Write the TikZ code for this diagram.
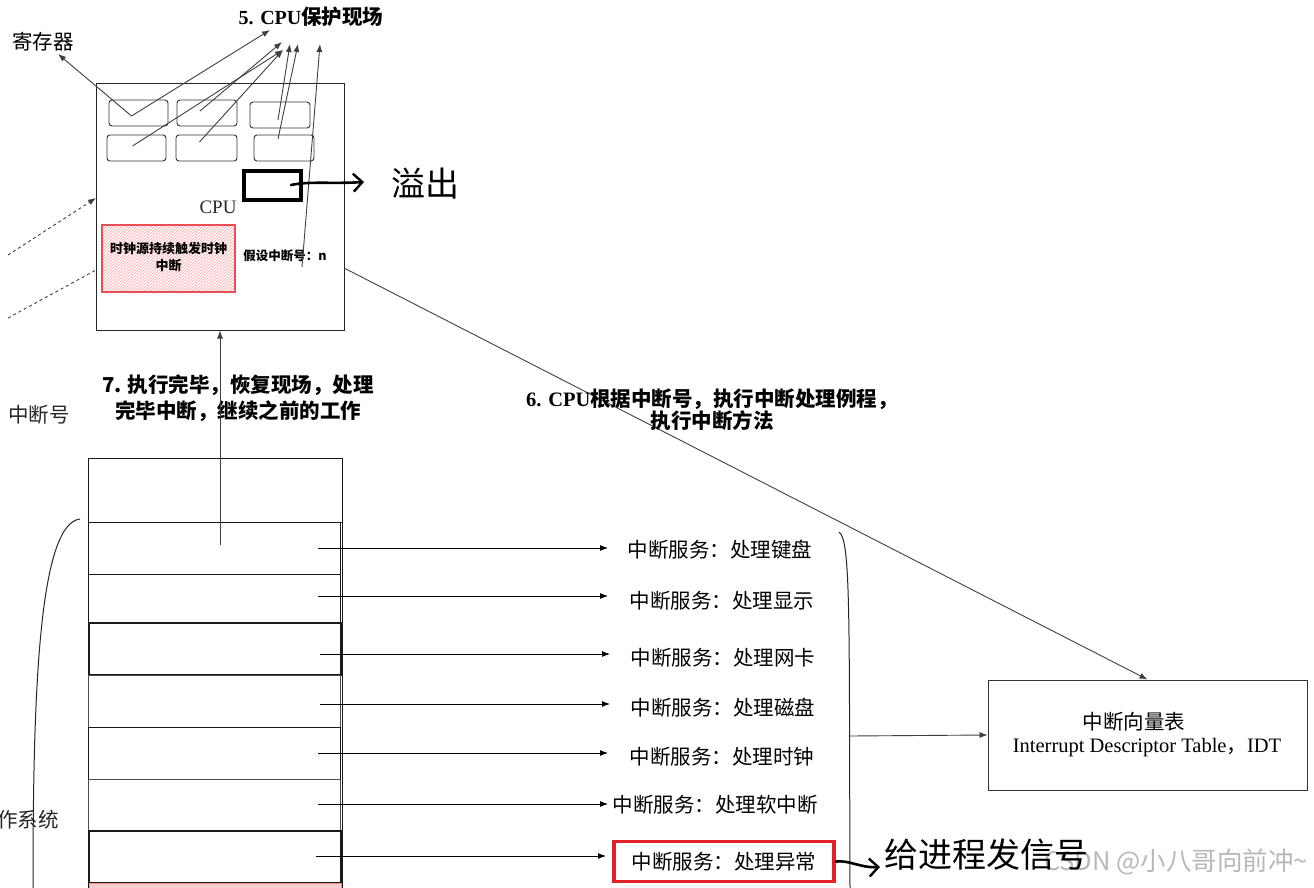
\documentclass[tikz,border=0pt]{standalone}
\usepackage{fontspec}
\setmainfont{Liberation Serif}
\newfontfamily\cjk{Noto Sans CJK SC}
\usetikzlibrary{arrows.meta,patterns}
\definecolor{redbox}{HTML}{E3212B}
\tikzset{
  reg/.style={draw=black!80, rounded corners=3pt, line width=0.9pt, minimum height=26pt, inner sep=0pt},
  cell/.style={draw=black!90, line width=1pt, minimum width=252pt, inner sep=0pt},
  conn/.style={-{Latex[length=8pt,width=6pt]}, draw=black!75, line width=0.9pt},
  svc/.style={font=\cjk\fontsize{20.5}{24}\selectfont, inner sep=2pt},
  hand/.style={draw=black, line width=2.6pt, line cap=round, -{Straight Barb[length=9pt,width=18pt,line width=2.4pt]}},
  big/.style={font=\cjk\fontsize{34}{40}\selectfont, inner sep=0pt},
  lbl/.style={font=\cjk\fontsize{20.5}{24}\selectfont, inner sep=0pt},
}
\begin{document}
\begin{tikzpicture}[x=1pt,y=-1pt]
\useasboundingbox (0,0) rectangle (1314,888);
\clip (0,0) rectangle (1314,888);
\fill[white] (0,0) rectangle (1314,888);

% watermark (behind)
\node[font=\cjk\fontsize{25.5}{28}\selectfont, text=black!28, inner sep=0pt] (wm) at (1176,862) {CSDN @小八哥向前冲\textasciitilde};

% CPU box
\node[draw=black!85, line width=1pt, minimum width=248pt, minimum height=246pt, inner sep=0pt] (cpu) at (220,207) {};
\node[reg, minimum width=59pt] (r1) at (138.5,113) {};
\node[reg, minimum width=60pt] (r2) at (207,113) {};
\node[reg, minimum width=60pt] (r3) at (280,115) {};
\node[reg, minimum width=59pt] (r4) at (136.5,148) {};
\node[reg, minimum width=61pt] (r5) at (206.5,148) {};
\node[reg, minimum width=60pt] (r6) at (284,148) {};
\node[draw=black, line width=3.8pt, minimum width=57pt, minimum height=29pt, inner sep=0pt] (ovf) at (272.5,185.5) {};
\node[font=\fontsize{19}{22}\selectfont, text=black!85, inner sep=0pt] (cpul) at (218,207) {CPU};
\node[draw=redbox!80, line width=1.2pt, fill=red!8, pattern=north east lines, pattern color=red!35, minimum width=133pt, minimum height=67pt, inner sep=0pt] (clk) at (168.5,258.5) {};
\node[font=\cjk\bfseries\fontsize{13}{17}\selectfont, align=center, inner sep=0pt] (clkt) at (168.5,257) {时钟源持续触发时钟\\中断};
\node[font=\cjk\bfseries\fontsize{12.5}{15}\selectfont, inner sep=0pt] (irqn) at (285,256) {假设中断号：n};

% title 5 and register label
\node[inner sep=0pt] (t5) at (311,17) {{\bfseries\fontsize{20}{24}\selectfont 5. CPU}{\cjk\bfseries\fontsize{20.5}{24}\selectfont 保护现场}};
\node[lbl] (regl) at (43,42) {寄存器};
\coordinate (e0) at (58,54);
\coordinate (e1) at (270,30);
\coordinate (e2) at (282,42);
\coordinate (e3) at (283,50);
\coordinate (e4) at (290,44);
\coordinate (e5) at (298,44);
\coordinate (e6) at (320,44);
\draw[conn] ([xshift=-7pt,yshift=-3pt]r1.center) -- (e0);
\draw[conn] ([xshift=-7pt,yshift=-3pt]r1.center) -- (e1);
\draw[conn] ([xshift=-7pt,yshift=2pt]r2.center) -- (e2);
\draw[conn] ([xshift=-4pt,yshift=2pt]r4.center) -- (e3);
\draw[conn] ([xshift=-7pt,yshift=6pt]r5.center) -- (e3);
\draw[conn] ([xshift=-2pt,yshift=-5pt]r3.center) -- (e4);
\draw[conn] ([xshift=-6pt,yshift=9pt]r6.center) -- (e5);
\draw[conn] ([xshift=17pt,yshift=-11pt]irqn.center) -- (e6);

% overflow
\coordinate (ovs) at (291,185);
\node[big] (ovt) at (425,184) {溢出};
\draw[hand] (ovs) .. controls (310,181) and (330,184) .. (364,182);

% dashed incoming
\coordinate (d1) at (8,255);
\coordinate (d2) at (8,318);
\coordinate (d1e) at (96,198);
\coordinate (d2e) at (96,270);
\draw[dashed, draw=black!75, line width=0.9pt, -{Latex[length=8pt,width=6pt]}] (d1) -- (d1e);
\draw[dashed, draw=black!75, line width=0.9pt] (d2) -- (d2e);

% left labels
\node[lbl, text=black!85] (irqlbl) at (39,415) {中断号};
\node[lbl, anchor=east, text=black!85] (os) at (59,820) {操作系统};

% step 7
\node[font=\cjk\bfseries\fontsize{20.5}{26}\selectfont, align=center, inner sep=0pt] (l7) at (238,398) {7. 执行完毕，恢复现场，处理\\完毕中断，继续之前的工作};

% table
\node[draw=black!90, line width=1pt, minimum width=254pt, minimum height=64pt, inner sep=0pt] (t0) at (215,490) {};
\draw[black!90, line width=1pt] (88,522) -- (88,888);
\draw[black!90, line width=1pt] (342,522) -- (342,888);
\node[cell, minimum height=52pt] (c1) at (214,548) {};
\node[cell, minimum height=49pt] (c2) at (214,598.5) {};
\node[cell, minimum height=52pt, line width=1.3pt] (c3) at (215,649) {};
\node[cell, minimum height=52pt, draw=black!70] (c4) at (214,701) {};
\node[cell, minimum height=52pt] (c5) at (214,753) {};
\node[cell, minimum height=52pt, draw=black!70] (c6) at (214,805) {};
\node[cell, minimum height=52pt, line width=1.3pt] (c7) at (215,857) {};
\node[draw=red!45, fill=red!20, line width=1pt, minimum width=252pt, minimum height=20pt, inner sep=0pt] (c8) at (215,893) {};

\coordinate (ret) at (220,545);
\draw[conn] (ret) -- (cpu.south);

% services
\node[svc] (s1) at (720,550) {中断服务：处理键盘};
\node[svc] (s2) at (722,601) {中断服务：处理显示};
\node[svc] (s3) at (723,658) {中断服务：处理网卡};
\node[svc] (s4) at (723,708) {中断服务：处理磁盘};
\node[svc] (s5) at (722,757) {中断服务：处理时钟};
\node[svc] (s6) at (715,805) {中断服务：处理软中断};
\node[svc, draw=redbox, line width=3.8pt, minimum width=220pt, minimum height=40pt] (s7) at (724,861.5) {中断服务：处理异常};

\coordinate (a1) at (318,548); \coordinate (b1) at (608,548);
\coordinate (a2) at (318,596); \coordinate (b2) at (608,596);
\coordinate (a3) at (320,654); \coordinate (b3) at (610,654);
\coordinate (a4) at (320,704); \coordinate (b4) at (610,704);
\coordinate (a5) at (318,753); \coordinate (b5) at (608,753);
\coordinate (a6) at (318,804); \coordinate (b6) at (608,804);
\coordinate (a7) at (316,856); \coordinate (b7) at (606,856);
\foreach \i in {1,...,7} { \draw[conn, draw=black] (a\i) -- (b\i); }

% braces
\draw[black!85, line width=1pt] (80,519) .. controls (38,524) and (33,700) .. (33,888);
\draw[black!85, line width=1pt] (839,532) .. controls (851,540) and (849,620) .. (850,888);
\coordinate (bm) at (850,736);

% IDT
\node[draw=black!80, line width=1pt, minimum width=319pt, minimum height=110pt, inner sep=0pt] (idt) at (1147.5,735) {};
\node[lbl] (idt1) at (1134,722) {中断向量表};
\node[font=\fontsize{20.5}{22}\selectfont, inner sep=0pt] (idt2) at (1147,748) {Interrupt Descriptor Table{\cjk ，}IDT};
\draw[conn] (bm) -- (idt.west);
\coordinate (cpuo) at (344,268);
\draw[conn] (cpuo) -- (idt.north);

% step 6
\node[align=center, inner sep=0pt] (l6) at (712,410) {{\bfseries\fontsize{20.5}{26}\selectfont 6. CPU}{\cjk\bfseries\fontsize{20.5}{26}\selectfont 根据中断号，执行中断处理例程，}\\{\cjk\bfseries\fontsize{20.5}{26}\selectfont 执行中断方法}};

% signal
\node[big] (sig) at (986,855) {给进程发信号};
\draw[hand] (s7.east) .. controls (850,860) and (860,868) .. (880,867);
\end{tikzpicture}
\end{document}
